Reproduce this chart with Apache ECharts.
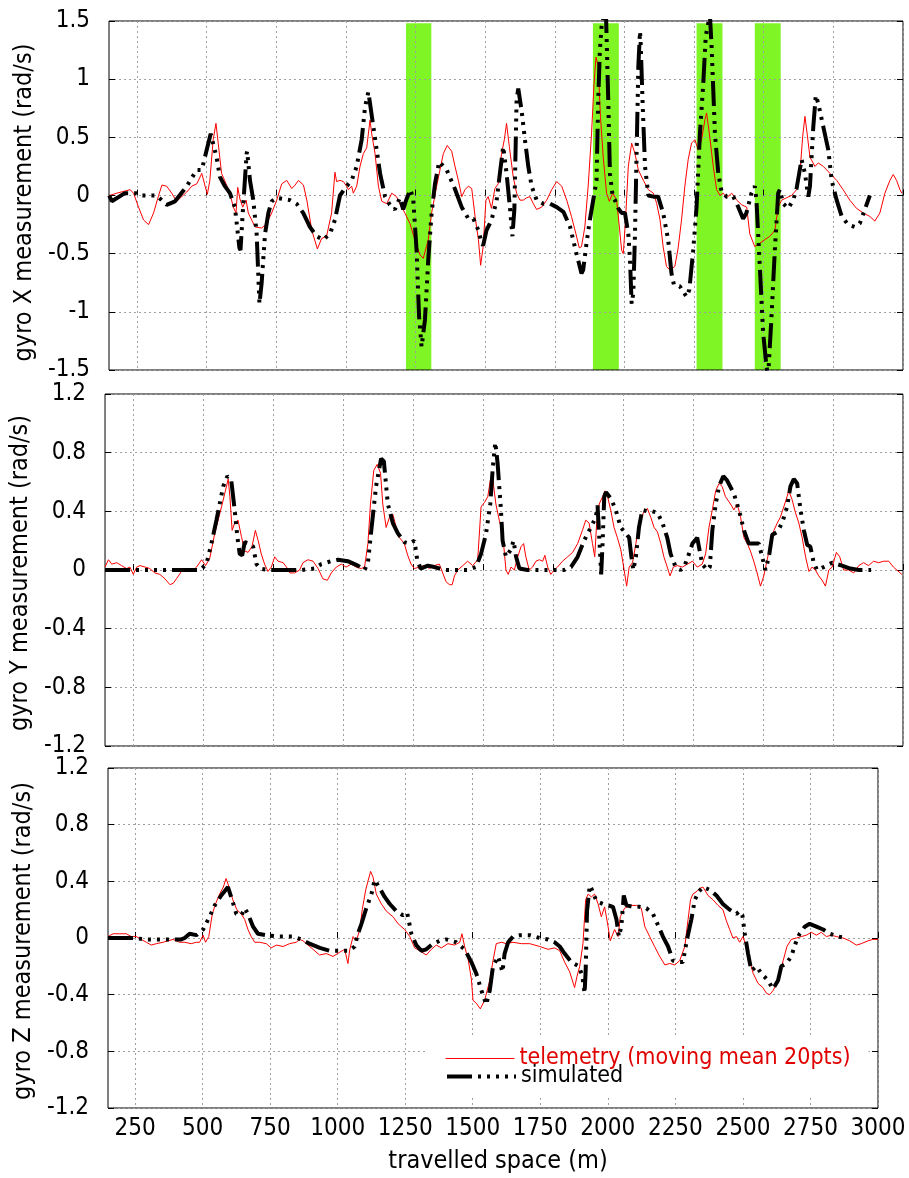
<!DOCTYPE html>
<html>
<head>
<meta charset="utf-8">
<title>gyro measurements</title>
<script src="https://cdn.jsdelivr.net/npm/echarts@6/dist/echarts.min.js"></script>
<style>
  html, body { margin: 0; padding: 0; background: #fff; }
  #chart { width: 909px; height: 1178px; }
</style>
</head>
<body>
<div id="chart"></div>
<script>
// x ticks (travelled space, m)
const xTicks = [250, 500, 750, 1000, 1250, 1500, 1750, 2000, 2250, 2500, 2750, 3000];

// green highlighted zones on the gyro X panel [from, to] in m
const gyroXBands = [[1216, 1307], [1887, 1980], [2259, 2352], [2468, 2561]];

// gyro X - telemetry (moving mean)
const gyroXTel = [[151,0],[178,0.02],[226,0.05],[238,0.02],[256,-0.10],[274,-0.21],[292,-0.25],[310,-0.15],[328,0.0],[340,0.09],[357,0.08],[375,0.02],[393,-0.05],[411,-0.01],[429,0.03],[447,0.08],[465,0.10],[483,0.19],[495,0.08],[503,0.01],[512,0.13],[524,0.48],[534,0.62],[542,0.45],[554,0.19],[572,0.09],[584,0.02],[596,-0.10],[606,-0.15],[612,0.07],[620,-0.03],[630,-0.10],[642,-0.04],[650,-0.15],[662,-0.21],[674,-0.27],[698,-0.28],[716,-0.24],[734,-0.15],[752,-0.04],[770,0.10],[788,0.13],[806,0.06],[818,0.09],[830,0.13],[848,0.09],[860,-0.04],[878,-0.30],[898,-0.46],[913,-0.37],[931,-0.35],[949,-0.15],[961,0.20],[967,0.12],[979,0.13],[991,0.12],[1003,0.08],[1009,0.05],[1021,0.08],[1027,0.02],[1039,0.08],[1051,0.25],[1063,0.36],[1075,0.41],[1087,0.65],[1093,0.53],[1105,0.36],[1117,0.08],[1129,-0.05],[1147,-0.07],[1165,0.02],[1182,-0.01],[1200,-0.10],[1212,-0.15],[1230,-0.24],[1248,-0.38],[1266,-0.51],[1278,-0.54],[1296,-0.38],[1308,-0.15],[1326,0.08],[1338,0.22],[1350,0.36],[1364,0.43],[1380,0.38],[1392,0.25],[1404,0.13],[1416,-0.01],[1428,0.05],[1440,0.08],[1452,0.06],[1464,-0.18],[1476,-0.38],[1484,-0.60],[1493,-0.44],[1503,-0.04],[1511,-0.01],[1523,-0.11],[1535,0.06],[1547,0.10],[1559,0.36],[1569,0.48],[1577,0.62],[1587,0.42],[1601,0.16],[1613,0.02],[1625,-0.04],[1637,-0.04],[1649,-0.02],[1661,-0.01],[1673,-0.07],[1685,-0.12],[1703,-0.10],[1721,-0.04],[1739,0.05],[1757,0.12],[1775,0.08],[1793,-0.04],[1810,-0.18],[1826,-0.33],[1838,-0.45],[1846,-0.44],[1858,-0.27],[1870,0.08],[1882,0.53],[1891,0.96],[1898,1.19],[1906,1.11],[1914,0.68],[1924,0.33],[1936,0.02],[1946,-0.05],[1958,0.02],[1972,-0.04],[1982,-0.27],[1990,-0.47],[1996,-0.50],[2004,-0.21],[2014,0.25],[2026,0.45],[2038,0.36],[2050,0.22],[2068,0.13],[2086,0.05],[2104,0.02],[2116,-0.07],[2128,-0.21],[2139,-0.44],[2151,-0.61],[2163,-0.64],[2181,-0.61],[2193,-0.45],[2205,-0.21],[2217,0.08],[2229,0.31],[2241,0.45],[2253,0.48],[2265,0.39],[2277,0.48],[2289,0.65],[2295,0.71],[2305,0.53],[2319,0.25],[2331,0.05],[2343,0.0],[2355,0.02],[2367,-0.02],[2385,0.02],[2403,-0.04],[2421,-0.08],[2439,-0.10],[2450,-0.33],[2468,-0.44],[2486,-0.41],[2504,-0.38],[2522,-0.35],[2540,-0.30],[2552,-0.10],[2564,-0.04],[2582,-0.02],[2600,0.0],[2618,0.05],[2630,0.19],[2640,0.51],[2648,0.68],[2656,0.53],[2666,0.33],[2684,0.25],[2696,0.28],[2714,0.25],[2738,0.19],[2762,0.13],[2785,0.05],[2809,-0.04],[2833,-0.11],[2857,-0.15],[2881,-0.18],[2899,-0.22],[2917,-0.15],[2935,0.02],[2953,0.13],[2965,0.18],[2977,0.13],[2989,0.05],[2996,0.02]];

// gyro X - simulated
const gyroXSim = [[151,0],[160,-0.05],[207,0.02],[249,0.02],[261,0.0],[321,0.0],[357,-0.08],[387,-0.05],[429,0.08],[465,0.22],[483,0.22],[515,0.53],[536,0.33],[548,0.16],[566,0.08],[584,0.02],[602,-0.10],[618,-0.45],[622,-0.47],[630,-0.15],[644,0.36],[646,0.38],[656,0.13],[668,-0.04],[680,-0.33],[690,-0.93],[698,-0.75],[710,-0.33],[722,-0.15],[734,-0.05],[752,-0.02],[800,-0.04],[823,-0.07],[847,-0.15],[871,-0.27],[895,-0.35],[919,-0.38],[943,-0.33],[961,-0.21],[979,0.0],[1003,0.08],[1021,0.13],[1039,0.25],[1057,0.48],[1069,0.76],[1081,0.89],[1087,0.88],[1099,0.59],[1111,0.39],[1123,0.19],[1141,-0.01],[1158,-0.08],[1176,-0.12],[1194,-0.02],[1206,-0.12],[1218,-0.03],[1232,0.05],[1242,-0.03],[1254,-0.47],[1263,-1.04],[1272,-1.30],[1284,-1.07],[1296,-0.55],[1308,-0.15],[1320,0.10],[1335,0.29],[1362,0.22],[1391,0.06],[1416,-0.10],[1440,-0.20],[1458,-0.20],[1476,-0.30],[1488,-0.41],[1493,-0.43],[1505,-0.30],[1523,-0.21],[1541,-0.05],[1553,0.19],[1565,0.42],[1577,0.19],[1589,-0.10],[1598,-0.35],[1605,-0.12],[1613,0.82],[1619,0.92],[1631,0.73],[1643,0.48],[1655,0.25],[1667,0.08],[1685,-0.04],[1709,-0.07],[1733,-0.07],[1757,-0.10],[1781,-0.14],[1805,-0.27],[1828,-0.50],[1846,-0.67],[1852,-0.64],[1864,-0.41],[1876,-0.21],[1888,-0.04],[1900,0.13],[1906,0.82],[1912,1.25],[1918,1.45],[1926,1.55],[1934,1.55],[1942,0.82],[1948,0.19],[1958,-0.01],[1966,-0.04],[1978,-0.11],[1990,-0.15],[2002,-0.15],[2014,-0.33],[2020,-0.55],[2026,-0.93],[2032,-0.84],[2038,-0.33],[2044,0.39],[2050,1.11],[2056,1.41],[2058,1.34],[2065,0.82],[2074,0.25],[2086,0.0],[2104,-0.01],[2121,-0.01],[2139,-0.15],[2157,-0.38],[2169,-0.67],[2178,-0.77],[2199,-0.78],[2223,-0.87],[2233,-0.81],[2247,-0.47],[2259,-0.10],[2271,0.53],[2283,0.96],[2292,1.37],[2301,1.48],[2307,1.55],[2313,1.28],[2325,0.53],[2337,0.19],[2349,0.03],[2367,-0.01],[2391,-0.01],[2409,-0.10],[2426,-0.20],[2438,-0.15],[2456,0.02],[2468,0.08],[2474,-0.04],[2486,-0.61],[2498,-1.18],[2510,-1.47],[2516,-1.55],[2528,-1.04],[2540,-0.47],[2552,0.02],[2558,0.05],[2570,-0.07],[2588,-0.11],[2606,-0.04],[2618,0.06],[2636,0.31],[2648,0.19],[2660,-0.01],[2666,0.08],[2678,0.59],[2687,0.86],[2696,0.79],[2714,0.59],[2732,0.39],[2744,0.13],[2762,-0.04],[2780,-0.18],[2803,-0.25],[2827,-0.27],[2845,-0.24],[2863,-0.12],[2881,0.0]];

// gyro Y - telemetry
const gyroYTel = [[150,0.02],[162,0.07],[174,0.04],[192,0.05],[209,0.03],[227,0.01],[239,0.02],[251,-0.03],[263,0.02],[275,0.03],[293,0.02],[310,0.01],[328,-0.02],[346,-0.03],[364,-0.06],[382,-0.10],[394,-0.09],[405,-0.06],[423,-0.01],[441,0],[459,-0.01],[477,0.02],[495,0.07],[509,0.03],[524,0.08],[542,0.25],[566,0.43],[580,0.54],[590,0.62],[596,0.50],[604,0.27],[613,0.32],[625,0.34],[637,0.23],[649,0.13],[661,0.12],[675,0.16],[687,0.27],[697,0.20],[708,0.11],[720,0.04],[732,-0.01],[744,0.02],[756,0.09],[768,0.06],[786,0.05],[798,0.02],[810,-0.02],[827,-0.02],[845,0],[857,0.05],[875,0.07],[893,0.06],[911,0.01],[928,-0.06],[944,-0.07],[958,-0.02],[976,0.02],[994,0.04],[1011,0.02],[1029,0.04],[1047,0.02],[1065,0.01],[1077,0.02],[1089,0.18],[1098,0.45],[1110,0.68],[1122,0.72],[1134,0.66],[1142,0.45],[1154,0.29],[1166,0.36],[1178,0.38],[1190,0.29],[1202,0.22],[1219,0.18],[1231,0.10],[1243,0.04],[1255,0.01],[1273,0.02],[1291,0.03],[1309,0.01],[1326,0.03],[1344,0.04],[1356,-0.02],[1368,-0.08],[1380,-0.10],[1390,-0.10],[1398,-0.04],[1410,0],[1428,0.03],[1445,0.06],[1463,0.03],[1481,0.07],[1493,0.43],[1505,0.46],[1517,0.50],[1526,0.61],[1532,0.66],[1538,0.57],[1546,0.45],[1558,0.34],[1570,0.25],[1582,0],[1590,-0.03],[1600,0.02],[1612,0],[1624,0.09],[1636,0.16],[1645,0.18],[1653,0.09],[1665,0],[1677,0.02],[1689,0.06],[1701,0.07],[1713,0.06],[1721,0.10],[1731,0.02],[1742,-0.03],[1754,0],[1766,0.02],[1784,0.06],[1802,0.09],[1820,0.12],[1838,0.18],[1855,0.27],[1867,0.34],[1879,0.32],[1891,0.18],[1899,0.09],[1906,0.32],[1915,0.45],[1927,0.50],[1936,0.54],[1945,0.50],[1956,0.41],[1968,0.29],[1980,0.22],[1992,0.14],[2004,0],[2013,-0.11],[2022,0.02],[2034,0.05],[2046,0.18],[2057,0.32],[2073,0.39],[2087,0.42],[2099,0.36],[2111,0.29],[2123,0.26],[2135,0.18],[2146,0.09],[2158,0.02],[2168,-0.04],[2180,0.02],[2194,0.03],[2212,0.02],[2230,0.04],[2248,0.06],[2265,0.02],[2283,0.04],[2295,0.11],[2307,0.29],[2319,0.41],[2331,0.54],[2343,0.59],[2354,0.57],[2366,0.50],[2384,0.45],[2396,0.41],[2408,0.45],[2420,0.36],[2432,0.22],[2444,0.18],[2455,0.13],[2467,0.06],[2479,-0.02],[2491,-0.11],[2503,-0.04],[2515,0.07],[2527,0.18],[2539,0.27],[2551,0.32],[2562,0.36],[2574,0.43],[2586,0.50],[2592,0.54],[2604,0.48],[2616,0.39],[2628,0.32],[2640,0.22],[2652,0.09],[2664,-0.01],[2675,0.02],[2687,0],[2699,-0.04],[2711,-0.07],[2723,-0.11],[2735,0],[2747,0.02],[2762,0.12],[2774,0.09],[2788,0],[2806,0],[2824,-0.02],[2842,0.03],[2859,0.05],[2877,0.03],[2895,0.06],[2913,0.05],[2931,0.06],[2949,0.06],[2966,0.02],[2978,0],[2996,-0.03]];

// gyro Y - simulated
const gyroYSim = [[150,0],[257,0],[316,0],[376,0],[447,0],[489,0],[512,0.04],[530,0.18],[548,0.34],[572,0.57],[587,0.64],[601,0.61],[613,0.41],[623,0.22],[631,0.11],[640,0.10],[649,0.19],[667,0.18],[679,0.16],[691,0.04],[703,0.01],[732,0],[792,0],[851,0],[899,0.01],[922,0.04],[958,0.06],[982,0.07],[1017,0.06],[1053,0.03],[1077,0],[1089,0.05],[1101,0.27],[1118,0.57],[1136,0.76],[1146,0.74],[1160,0.45],[1178,0.32],[1196,0.25],[1219,0.19],[1237,0.18],[1255,0.20],[1265,0.07],[1277,0.01],[1303,0.03],[1326,0.02],[1362,0],[1419,0],[1445,0],[1475,0.02],[1493,0.11],[1511,0.25],[1526,0.45],[1535,0.70],[1544,0.87],[1552,0.73],[1564,0.41],[1570,0.20],[1582,0.09],[1600,0.14],[1609,0.20],[1618,0.09],[1630,0.01],[1659,0],[1742,0],[1790,0],[1814,0.02],[1838,0.09],[1861,0.20],[1885,0.29],[1903,0.36],[1909,0.44],[1917,0.16],[1922,-0.03],[1927,0.18],[1933,0.50],[1939,0.53],[1956,0.49],[1974,0.41],[1992,0.29],[2010,0.25],[2022,0.22],[2030,0.09],[2037,0],[2046,0.09],[2057,0.29],[2069,0.41],[2087,0.40],[2105,0.40],[2123,0.39],[2141,0.32],[2158,0.22],[2170,0.11],[2188,0.02],[2206,0],[2218,0.02],[2232,0.09],[2248,0.18],[2265,0.22],[2283,0.04],[2301,0],[2310,0.02],[2319,0.27],[2331,0.45],[2343,0.57],[2358,0.64],[2372,0.61],[2396,0.52],[2414,0.41],[2432,0.27],[2449,0.18],[2467,0.18],[2485,0.18],[2497,0.09],[2509,0],[2521,0.09],[2533,0.24],[2551,0.26],[2568,0.32],[2586,0.43],[2598,0.57],[2610,0.62],[2622,0.59],[2634,0.41],[2646,0.27],[2658,0.17],[2669,0.16],[2681,0.05],[2693,0],[2717,0.02],[2747,0.05],[2782,0.03],[2812,0.01],[2842,0],[2886,0]];

// gyro Z - telemetry
const gyroZTel = [[150,0.01],[169,0.03],[193,0.03],[218,0.03],[236,0.01],[255,0.01],[273,-0.01],[292,-0.03],[310,-0.05],[329,-0.04],[354,-0.03],[372,-0.02],[391,-0.01],[415,-0.03],[434,-0.03],[458,-0.04],[477,-0.03],[489,-0.03],[502,0.02],[511,-0.03],[523,0.01],[536,0.17],[548,0.24],[563,0.31],[577,0.36],[587,0.42],[598,0.36],[612,0.27],[627,0.20],[643,0.17],[656,0.13],[668,0.06],[680,0.01],[693,-0.03],[711,-0.03],[736,-0.04],[754,-0.07],[773,-0.05],[798,-0.06],[822,-0.04],[847,-0.03],[860,-0.01],[872,-0.02],[884,-0.04],[909,-0.08],[933,-0.12],[958,-0.11],[983,-0.13],[1008,-0.10],[1026,-0.08],[1038,-0.18],[1045,-0.08],[1057,0.01],[1069,-0.02],[1082,0.06],[1091,0.20],[1104,0.34],[1112,0.40],[1122,0.47],[1131,0.43],[1143,0.31],[1162,0.24],[1180,0.19],[1205,0.15],[1224,0.10],[1248,0.06],[1267,0.01],[1285,-0.07],[1304,-0.09],[1328,-0.12],[1347,-0.08],[1365,-0.05],[1384,-0.07],[1408,-0.04],[1433,-0.05],[1452,-0.03],[1460,0.03],[1470,-0.06],[1483,-0.15],[1495,-0.29],[1501,-0.44],[1513,-0.46],[1528,-0.50],[1544,-0.44],[1563,-0.30],[1575,-0.16],[1587,-0.04],[1606,-0.03],[1624,-0.04],[1649,-0.03],[1680,-0.04],[1711,-0.04],[1748,-0.06],[1779,-0.08],[1803,-0.07],[1822,-0.09],[1840,-0.17],[1859,-0.24],[1877,-0.35],[1886,-0.27],[1896,-0.20],[1908,-0.04],[1918,0.27],[1927,0.31],[1939,0.29],[1951,0.31],[1964,0.24],[1976,0.15],[1988,0.22],[2001,0.08],[2009,-0.02],[2025,0.06],[2038,0.01],[2046,0.15],[2062,0.21],[2081,0.23],[2106,0.23],[2124,0.21],[2137,0.08],[2155,0.01],[2173,-0.06],[2192,-0.13],[2211,-0.19],[2229,-0.18],[2248,-0.19],[2266,-0.16],[2285,-0.06],[2297,0.13],[2306,0.27],[2315,0.31],[2330,0.33],[2340,0.35],[2352,0.36],[2371,0.30],[2389,0.27],[2408,0.23],[2426,0.20],[2439,0.12],[2451,0.06],[2463,0],[2476,0.01],[2488,-0.03],[2500,0.01],[2513,-0.06],[2525,-0.16],[2538,-0.25],[2556,-0.32],[2574,-0.35],[2587,-0.39],[2599,-0.40],[2612,-0.37],[2630,-0.30],[2649,-0.16],[2663,-0.06],[2679,-0.01],[2698,0],[2716,0.01],[2735,0.02],[2753,0.04],[2772,0.02],[2790,0.04],[2809,0.01],[2827,0.02],[2846,0.01],[2871,0],[2895,-0.02],[2920,-0.05],[2938,-0.04],[2963,-0.02],[2981,-0.01],[3000,-0.01]];

// gyro Z - simulated
const gyroZSim = [[150,0],[243,0],[292,-0.01],[341,-0.01],[378,-0.01],[421,-0.01],[434,0],[452,0.03],[477,0.02],[502,0.06],[526,0.15],[545,0.23],[569,0.30],[594,0.36],[606,0.29],[625,0.17],[644,0.16],[656,0.21],[668,0.17],[687,0.08],[705,0.03],[736,0.02],[785,0.01],[835,0.01],[866,-0.01],[896,-0.04],[934,-0.07],[970,-0.09],[1008,-0.09],[1042,-0.09],[1063,-0.06],[1075,0.03],[1088,0.10],[1106,0.21],[1125,0.31],[1137,0.41],[1156,0.35],[1174,0.29],[1193,0.24],[1217,0.19],[1242,0.16],[1257,0.18],[1273,0.03],[1291,-0.05],[1310,-0.09],[1328,-0.08],[1353,-0.04],[1378,-0.02],[1402,-0.01],[1439,-0.03],[1470,-0.08],[1495,-0.17],[1513,-0.25],[1532,-0.37],[1550,-0.47],[1563,-0.37],[1575,-0.20],[1594,-0.13],[1610,-0.24],[1618,-0.11],[1631,-0.03],[1649,0.01],[1674,0.02],[1711,0.02],[1748,0],[1779,-0.01],[1803,-0.03],[1822,-0.06],[1840,-0.11],[1865,-0.17],[1893,-0.20],[1906,-0.27],[1914,-0.39],[1918,-0.23],[1923,0.19],[1933,0.37],[1939,0.35],[1958,0.26],[1982,0.24],[2001,0.23],[2019,0.22],[2032,0.13],[2041,0.01],[2050,0.08],[2059,0.30],[2069,0.23],[2093,0.22],[2118,0.22],[2143,0.21],[2167,0.17],[2186,0.09],[2204,0.01],[2223,-0.06],[2241,-0.16],[2260,-0.17],[2278,-0.17],[2293,-0.01],[2309,0.13],[2322,0.27],[2338,0.33],[2352,0.36],[2377,0.34],[2402,0.30],[2426,0.24],[2451,0.20],[2476,0.17],[2488,0.19],[2498,0.16],[2507,0.03],[2519,-0.11],[2531,-0.23],[2550,-0.20],[2568,-0.25],[2593,-0.30],[2611,-0.36],[2630,-0.30],[2642,-0.20],[2661,-0.18],[2679,-0.13],[2698,-0.02],[2710,0.03],[2729,0.08],[2747,0.10],[2772,0.08],[2797,0.06],[2821,0.03],[2852,0.01],[2883,0]];

const TEL = 'telemetry (moving mean 20pts)';
const SIM = 'simulated';
const FONT = "'DejaVu Sans Condensed', 'Liberation Sans'";
const simDash = [25, 6, 3, 6, 3, 6, 3, 6, 3, 6];

const gridLine = { show: true, lineStyle: { color: '#a0a0a0', type: [2, 3], width: 1 } };
const tickIn = { inside: true, length: 6, lineStyle: { color: '#000' } };

// panel layout: [left, top, width, height], y range, y step, title, name gap, title shift
const panels = [
  { box: [109, 21, 794, 349], range: 1.5, step: 0.5, title: 'gyro X measurement (rad/s)', gap: 71, shift: 14 },
  { box: [103, 394, 800, 352], range: 1.2, step: 0.4, title: 'gyro Y measurement (rad/s)', gap: 64, shift: 6 },
  { box: [108, 768, 770, 340], range: 1.2, step: 0.4, title: 'gyro Z measurement (rad/s)', gap: 71, shift: 6 }
];
const tel = [gyroXTel, gyroYTel, gyroZTel];
const sim = [gyroXSim, gyroYSim, gyroZSim];

const grid = [], xAxis = [], yAxis = [], series = [];

panels.forEach((p, i) => {
  grid.push({
    left: p.box[0], top: p.box[1], width: p.box[2], height: p.box[3],
    show: true, borderColor: '#000', borderWidth: 1, backgroundColor: 'transparent'
  });
  const last = i === panels.length - 1;
  xAxis.push({
    type: 'value', gridIndex: i, min: 150, max: 3000,
    axisLine: { show: false },
    axisTick: Object.assign({ customValues: xTicks }, tickIn),
    axisLabel: {
      show: last, customValues: xTicks, margin: 9,
      formatter: v => String(v),
      fontFamily: FONT, fontSize: 24, color: '#000'
    },
    splitLine: gridLine,
    name: last ? 'travelled space (m)' : '',
    nameLocation: 'middle', nameGap: 41,
    nameTextStyle: { fontFamily: FONT, fontSize: 25, color: '#000', padding: [0, 0, 0, 10] }
  });
  // left axis with labels
  yAxis.push({
    type: 'value', gridIndex: i, min: -p.range, max: p.range, interval: p.step,
    axisLine: { show: false },
    axisTick: tickIn,
    axisLabel: {
      margin: 19, fontFamily: FONT, fontSize: 24, color: '#000',
      padding: [0, 0, 9, 0]
    },
    splitLine: gridLine,
    name: p.title, nameLocation: 'middle', nameGap: p.gap,
    nameTextStyle: { fontFamily: FONT, fontSize: 25, color: '#000', padding: [0, p.shift, 0, 0] }
  });
  // mirrored ticks on the right
  yAxis.push({
    type: 'value', gridIndex: i, position: 'right',
    min: -p.range, max: p.range, interval: p.step,
    axisLine: { show: false }, axisTick: tickIn,
    axisLabel: { show: false }, splitLine: { show: false }
  });

  series.push({
    name: TEL, type: 'line', xAxisIndex: i, yAxisIndex: 2 * i,
    data: tel[i], symbol: 'none', showSymbol: false, animation: false,
    lineStyle: { color: '#ff0000', width: 1 }, itemStyle: { color: '#ff0000' }
  });
  series.push({
    name: SIM, type: 'line', xAxisIndex: i, yAxisIndex: 2 * i,
    data: sim[i], symbol: 'none', showSymbol: false, animation: false,
    lineStyle: { color: '#000', width: 4, type: simDash, cap: 'butt' },
    itemStyle: { color: '#000' }
  });
});

// green zones, kept under the grid lines
series.push({
  type: 'line', xAxisIndex: 0, yAxisIndex: 0, data: [], z: -1, silent: true, animation: false,
  markArea: {
    silent: true, z: -1,
    itemStyle: { color: '#80f526', opacity: 1 },
    data: gyroXBands.map(b => [{ xAxis: b[0], yAxis: -1.5 }, { xAxis: b[1], yAxis: 1.48 }])
  }
});

// legend: line sample only, no symbol in the middle
const noSymbol = { color: 'rgba(0,0,0,0)', borderColor: 'rgba(0,0,0,0)', borderWidth: 0 };

const chart = echarts.init(document.getElementById('chart'), null, { renderer: 'canvas' });

chart.setOption({
  animation: false,
  backgroundColor: '#fff',
  grid: grid,
  xAxis: xAxis,
  yAxis: yAxis,
  legend: [
    {
      data: [{ name: TEL, textStyle: { color: '#e00000' } }],
      left: 428, top: 1035, padding: [12, 18, 26, 17],
      backgroundColor: '#fff', selectedMode: false,
      itemWidth: 69, itemHeight: 14,
      itemStyle: noSymbol,
      lineStyle: { width: 1, color: '#ff0000' },
      textStyle: { fontFamily: FONT, fontSize: 23 }
    },
    {
      data: [{ name: SIM, textStyle: { color: '#000' } }],
      left: 445, top: 1065, padding: 0, z: 5, selectedMode: false,
      itemWidth: 69, itemHeight: 14,
      itemStyle: noSymbol,
      lineStyle: { width: 4, type: simDash, color: '#000' },
      textStyle: { fontFamily: FONT, fontSize: 23 }
    }
  ],
  series: series
});
</script>
</body>
</html>
